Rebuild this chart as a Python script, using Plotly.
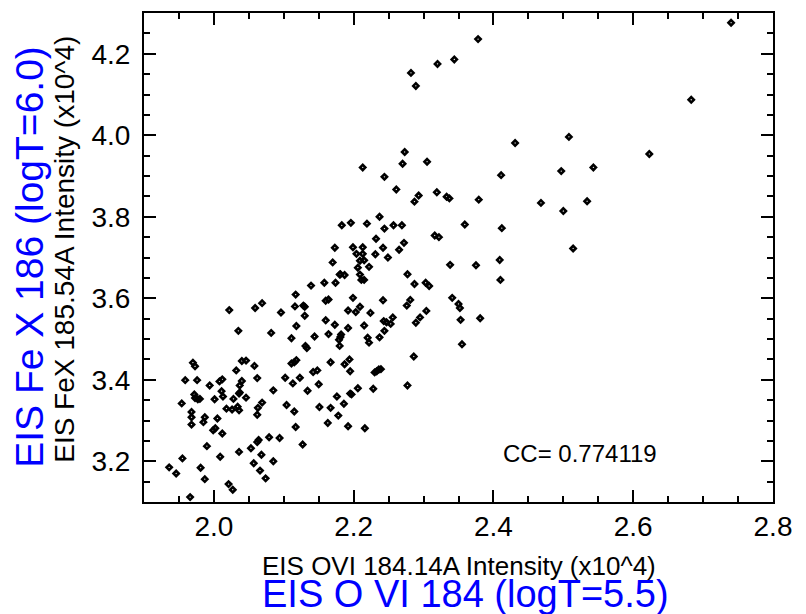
import plotly.graph_objects as go

# EIS O VI 184.14A intensity (x10^4)
ovi = [
    2.117, 2.022, 2.059, 2.069, 2.096, 2.116, 2.128, 2.130, 2.130, 2.035,
    2.082, 2.118, 2.111, 2.144, 2.131, 2.133, 1.970, 1.973, 2.040, 2.046,
    2.032, 2.058, 2.118, 2.115, 2.111, 1.959, 1.976, 1.994, 2.008, 2.012,
    2.040, 2.037, 2.062, 2.102, 2.123, 2.113, 2.142, 2.148, 2.150, 1.972,
    1.973, 1.977, 1.980, 1.954, 2.001, 2.011, 2.013, 2.028, 2.036, 2.037,
    2.046, 2.085, 2.134, 2.069, 2.063, 2.018, 2.026, 2.034, 2.036, 2.104,
    2.151, 1.968, 1.968, 1.987, 1.985, 2.005, 1.968, 2.062, 2.115, 2.002,
    1.999, 2.012, 2.117, 2.079, 2.064, 2.062, 2.094, 1.990, 2.053, 2.127,
    2.036, 1.955, 2.009, 2.068, 1.936, 1.946, 1.981, 2.057, 2.085, 2.066,
    1.987, 2.074, 2.021, 2.027, 1.966,
    2.160, 2.164, 2.199, 2.242, 2.281, 2.276, 2.209, 2.192, 2.203, 2.224,
    2.304, 2.295, 2.289, 2.256, 2.243, 2.247, 2.253, 2.341, 2.350, 2.352,
    2.353, 2.381, 2.160, 2.173, 2.215, 2.192, 2.164, 2.182, 2.181, 2.179,
    2.180, 2.220, 2.222, 2.244, 2.237, 2.355, 2.286, 2.167, 2.187, 2.194,
    2.195, 2.230, 2.233, 2.236, 2.239, 2.277, 2.228, 2.206, 2.195, 2.197,
    2.176, 2.186, 2.167, 2.178, 2.163, 2.192, 2.216,
    2.273, 2.213, 2.270, 2.305, 2.244, 2.261, 2.293, 2.287, 2.319, 2.333,
    2.337, 2.379, 2.237, 2.183, 2.196, 2.219, 2.257, 2.269, 2.244, 2.359,
    2.316, 2.322, 2.232, 2.272, 2.173, 2.199, 2.213, 2.242, 2.265, 2.204,
    2.213, 2.231, 2.209, 2.215, 2.249, 2.170, 2.206, 2.222, 2.338, 2.375,
    2.181, 2.180, 2.187, 2.209, 2.211, 2.215, 2.277, 2.139, 2.158, 2.174,
    2.287, 2.303, 2.308,
    2.378, 2.320, 2.344, 2.282, 2.289,
    2.683, 2.431, 2.508, 2.623, 2.411, 2.497, 2.543, 2.468, 2.534, 2.500,
    2.412, 2.514, 2.409, 2.410,
    2.740,
]

# EIS Fe X 185.54A intensity (x10^4)
fex = [
    3.609, 3.571, 3.576, 3.588, 3.565, 3.580, 3.582, 3.579, 3.557, 3.520,
    3.515, 3.532, 3.502, 3.506, 3.483, 3.478, 3.442, 3.433, 3.446, 3.447,
    3.423, 3.434, 3.448, 3.443, 3.440, 3.399, 3.399, 3.386, 3.396, 3.401,
    3.397, 3.386, 3.404, 3.405, 3.405, 3.391, 3.419, 3.423, 3.389, 3.364,
    3.355, 3.352, 3.353, 3.342, 3.352, 3.372, 3.359, 3.353, 3.366, 3.369,
    3.356, 3.374, 3.373, 3.344, 3.331, 3.329, 3.327, 3.334, 3.325, 3.338,
    3.333, 3.321, 3.308, 3.308, 3.296, 3.305, 3.290, 3.314, 3.322, 3.281,
    3.276, 3.268, 3.284, 3.259, 3.252, 3.247, 3.257, 3.237, 3.232, 3.241,
    3.223, 3.207, 3.211, 3.216, 3.185, 3.170, 3.184, 3.195, 3.200, 3.177,
    3.156, 3.158, 3.144, 3.130, 3.112,
    3.594, 3.597, 3.601, 3.595, 3.596, 3.582, 3.579, 3.570, 3.566, 3.564,
    3.569, 3.553, 3.540, 3.553, 3.544, 3.541, 3.537, 3.601, 3.586, 3.576,
    3.547, 3.551, 3.546, 3.535, 3.533, 3.527, 3.512, 3.511, 3.505, 3.498,
    3.483, 3.503, 3.491, 3.520, 3.504, 3.487, 3.457, 3.443, 3.438, 3.450,
    3.421, 3.418, 3.421, 3.425, 3.426, 3.386, 3.378, 3.379, 3.366, 3.364,
    3.359, 3.341, 3.331, 3.312, 3.294, 3.286, 3.281,
    3.959, 3.921, 3.930, 3.935, 3.898, 3.867, 3.852, 3.837, 3.860, 3.849,
    3.845, 3.842, 3.800, 3.779, 3.785, 3.783, 3.779, 3.779, 3.771, 3.781,
    3.754, 3.750, 3.746, 3.736, 3.724, 3.725, 3.725, 3.724, 3.719, 3.709,
    3.709, 3.708, 3.692, 3.693, 3.700, 3.688, 3.675, 3.677, 3.682, 3.681,
    3.659, 3.658, 3.657, 3.658, 3.645, 3.645, 3.659, 3.631, 3.638, 3.638,
    3.635, 3.638, 3.630,
    4.236, 4.175, 4.186, 4.153, 4.121,
    4.087, 3.981, 3.996, 3.954, 3.902, 3.912, 3.921, 3.834, 3.838, 3.814,
    3.772, 3.722, 3.694, 3.645,
    4.276,
]

x_ticks = [2.0, 2.2, 2.4, 2.6, 2.8]
y_ticks = [3.2, 3.4, 3.6, 3.8, 4.0, 4.2]
cc_text = "CC= 0.774119"

FONT = "Liberation Sans, Arial, Helvetica, sans-serif"

fig = go.Figure()
fig.add_trace(go.Scatter(
    x=ovi, y=fex, mode="markers",
    marker=dict(symbol="diamond-open", size=4, color="black",
                line=dict(color="black", width=2.6)),
    hoverinfo="x+y", showlegend=False,
))

axis_common = dict(
    showline=True, linecolor="black", linewidth=2, mirror="allticks",
    ticks="inside", ticklen=12, tickwidth=2, tickcolor="black",
    showgrid=False, zeroline=False, tickformat=".1f",
    tickfont=dict(family=FONT, size=28, color="black"),
)

fig.update_xaxes(range=[1.9, 2.8], tickvals=x_ticks,
                 minor=dict(dtick=0.05, tick0=1.9, ticks="inside", ticklen=6,
                            tickwidth=2, tickcolor="black", showgrid=False),
                 ticklabelstandoff=-2, **axis_common)
fig.update_yaxes(range=[3.1, 4.3], tickvals=y_ticks,
                 minor=dict(dtick=0.05, tick0=3.1, ticks="inside", ticklen=6,
                            tickwidth=2, tickcolor="black", showgrid=False),
                 ticklabelstandoff=6, **axis_common)

annotations = [
    dict(text="EIS Fe X 186 (logT=6.0)", x=-0.1812, y=0.5015, textangle=-90,
         font=dict(family=FONT, size=39, color="#0000ff")),
    dict(text="EIS FeX 185.54A Intensity (x10^4)", x=-0.1256, y=0.5178, textangle=-90,
         font=dict(family=FONT, size=28, color="black")),
    dict(text="EIS OVI 184.14A Intensity (x10^4)", x=0.5008, y=(502.5 - 567) / 491.5,
         font=dict(family=FONT, size=26, color="black")),
    dict(text="EIS O VI 184 (logT=5.5)", x=0.5119, y=(502.5 - 595) / 491.5,
         font=dict(family=FONT, size=38, color="#0000ff")),
]
for a in annotations:
    a.update(xref="paper", yref="paper", xanchor="center", yanchor="middle",
             showarrow=False)
annotations.append(dict(text=cc_text, x=2.524, y=3.220, xref="x", yref="y",
                        xanchor="center", yanchor="middle", showarrow=False,
                        font=dict(family=FONT, size=24, color="black")))

fig.update_layout(
    width=806, height=614,
    margin=dict(l=144, r=33, t=11, b=111.5),
    paper_bgcolor="white", plot_bgcolor="white",
    annotations=annotations,
    font=dict(family=FONT),
)

fig.write_html("out.html")
